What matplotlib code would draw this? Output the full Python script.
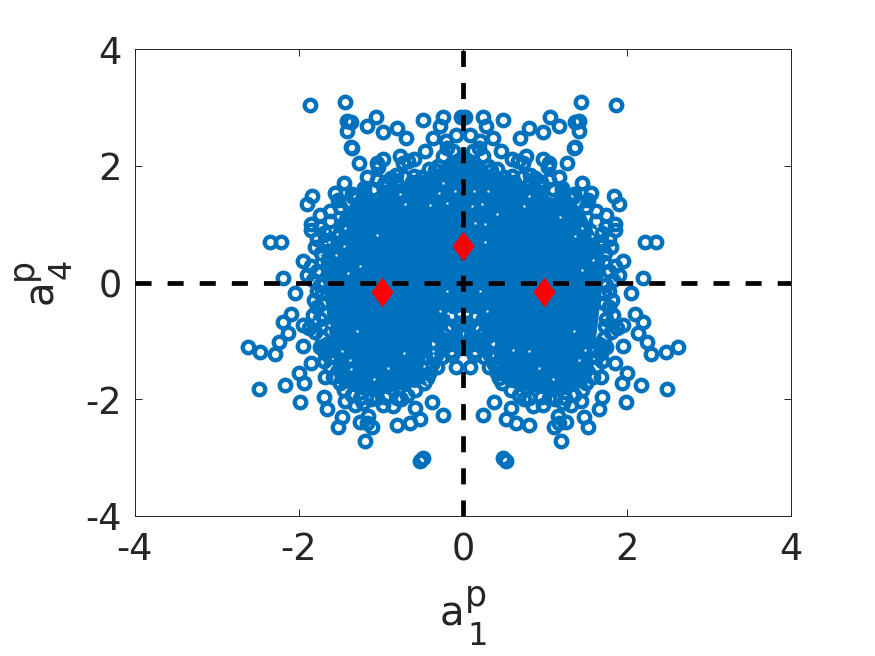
import matplotlib
matplotlib.use('Agg')
from matplotlib import pyplot as plt
from matplotlib.path import Path

# Individual rings that can be told apart (left half)
ring_y = [3.04, 3.09, 2.76, 2.75, 2.60, 2.68, 2.84, 2.58, 2.64, 2.48, 2.78, 2.83, 2.68, 2.48, 2.52, 2.42, 2.30, 2.17, 2.26, 2.30,
          2.32, 2.05, 2.05, 2.11, 1.98, 2.16, 2.05, 2.08, 2.12, 1.92, 1.71, 1.80, 1.62, 1.75, 1.79, 1.49, 1.34, 1.54, 1.42, 1.47,
          1.16, 1.01, 0.69, 0.69, 0.36, 0.07, -0.18, -0.54, -0.67, -0.87, -1.02, -1.11, -1.19, -1.23, -1.09, -1.38, -1.55, -1.72, -1.76, -1.82,
          -2.05, -1.96, -2.16, -1.62, -2.31, -2.47, -2.39, -2.28, -2.40, -2.47, -2.71, -2.44, -2.41, -2.33, -2.15, -2.05, -2.27, -3.00, -3.05,
          -1.44, -2.03, -2.10, -2.06, -2.10, -2.11, -2.00,
          0.95, 0.85, 0.75, 0.72, 0.90, 0.60, 0.50, 0.28, 0.20, 0.12, 0.05, -0.05, -0.18, -0.30, -0.42, -0.55, -0.62, -0.72, -0.78,
          -0.85, -0.95, -1.10, -1.20, -1.35, -1.45, -1.62, -1.72, -1.85, -1.92, -1.98, -2.00, -1.98, -1.97, -1.98, -1.93, -1.85, -1.72, -1.55, -1.40,
          -1.25, -1.15, -1.02, -1.18, -0.98, -0.92, -0.75, -0.72, -0.60,
          1.52, 1.55, 1.60, 1.65, 1.72, 1.80, 1.82, 1.80, 1.95, 2.00, 2.25, 2.10, 1.65, 1.42,
          -1.23, -1.27, -1.25, -1.46, -1.44, -1.63, -1.03, -1.12, -0.89, -0.98, -1.03, -0.92, -0.80, -0.69, -0.69, -0.58,
          1.22, 1.30, 1.38, 1.45, 1.50, 1.55, 1.60, 1.72, 1.85, 1.72, 1.72,
          1.05, 0.62, 0.35, -0.15, -0.35, -0.75, -1.05, -1.28, -1.15, -1.11, -1.08, -1.15, 2.84]
ring_x_left = [-1.87, -1.44, -1.41, -1.36, -1.41, -1.17, -1.06, -0.98, -0.80, -0.70, -0.49, -0.24, -0.28, -0.37, -0.08, -0.21, -0.20, -0.24, -0.46, -1.35,
               -1.37, -1.27, -1.05, -0.98, -1.04, -0.77, -0.73, -0.67, -0.60, -0.34, -1.45, -1.17, -1.21, -1.05, -0.88, -1.84, -1.90, -1.56, -1.52, -1.34,
               -1.74, -1.85, -2.35, -2.22, -1.95, -2.20, -2.05, -2.10, -2.19, -2.14, -2.24, -2.62, -2.47, -2.29, -1.95, -1.85, -2.00, -1.94, -2.17, -2.49,
               -1.99, -1.70, -1.66, -1.68, -1.48, -1.52, -1.26, -1.16, -1.17, -1.11, -1.19, -0.81, -0.65, -0.52, -0.59, -0.38, -0.24, -0.49, -0.53,
               -0.09, -1.44, -1.32, -1.22, -0.98, -0.85, -0.75,
               -1.75, -1.70, -1.78, -1.68, -1.85, -1.80, -1.73, -1.85, -1.78, -1.90, -1.83, -1.75, -1.72, -1.82, -1.78, -1.83, -1.75, -1.95, -1.88,
               -1.80, -1.72, -1.75, -1.68, -1.70, -1.62, -1.58, -1.50, -1.45, -1.35, -1.25, -1.12, -1.05, -0.95, -0.80, -0.68, -0.58, -0.48, -0.42, -0.38,
               -0.33, -0.28, -0.22, -0.15, -0.08, -0.30, -0.15, -0.05, -0.25,
               -1.35, -1.22, -1.10, -0.98, -0.82, -0.72, -0.60, -0.50, -0.42, -0.30, -0.12, -0.05, -0.18, -0.28,
               -0.38, -0.26, -0.14, -0.40, -0.32, -0.44, -0.16, -0.04, -0.01, -0.24, -0.34, -0.10, -0.20, -0.04, -0.28, -0.16,
               -1.62, -1.50, -1.42, -1.30, -1.20, -0.95, -0.85, -0.95, -0.82, -0.62, -0.50,
               -1.62, -1.68, -1.72, -1.78, -1.72, -1.73, -1.66, -1.62, -1.60, -1.72, -1.70, -1.68, -0.02]
ring_x_right = [1.87, 1.44, 1.41, 1.36, 1.41, 1.17, 1.06, 0.98, 0.80, 0.70, 0.49, 0.24, 0.28, 0.37, 0.08, 0.21, 0.20, 0.24, 0.46, 1.35,
                1.37, 1.27, 1.05, 0.98, 1.04, 0.77, 0.73, 0.67, 0.60, 0.34, 1.45, 1.17, 1.21, 1.05, 0.88, 1.84, 1.90, 1.56, 1.52, 1.34,
                1.74, 1.85, 2.35, 2.22, 1.95, 2.20, 2.05, 2.10, 2.19, 2.14, 2.24, 2.62, 2.47, 2.29, 1.95, 1.85, 2.00, 1.94, 2.17, 2.49,
                1.99, 1.70, 1.66, 1.68, 1.48, 1.52, 1.26, 1.16, 1.17, 1.11, 1.19, 0.81, 0.65, 0.52, 0.59, 0.38, 0.24, 0.49, 0.53,
                0.09, 1.44, 1.32, 1.22, 0.98, 0.85, 0.75,
                1.75, 1.70, 1.78, 1.68, 1.85, 1.80, 1.73, 1.85, 1.78, 1.90, 1.83, 1.75, 1.72, 1.82, 1.78, 1.83, 1.75, 1.95, 1.88,
                1.80, 1.72, 1.75, 1.68, 1.70, 1.62, 1.58, 1.50, 1.45, 1.35, 1.25, 1.12, 1.05, 0.95, 0.80, 0.68, 0.58, 0.48, 0.42, 0.38,
                0.33, 0.28, 0.22, 0.15, 0.08, 0.30, 0.15, 0.05, 0.25,
                1.35, 1.22, 1.10, 0.98, 0.82, 0.72, 0.60, 0.50, 0.42, 0.30, 0.12, 0.05, 0.18, 0.28,
                0.38, 0.26, 0.14, 0.40, 0.32, 0.44, 0.16, 0.04, 0.01, 0.24, 0.34, 0.10, 0.20, 0.04, 0.28, 0.16,
                1.62, 1.50, 1.42, 1.30, 1.20, 0.95, 0.85, 0.95, 0.82, 0.62, 0.50,
                1.62, 1.68, 1.72, 1.78, 1.72, 1.73, 1.66, 1.62, 1.60, 1.72, 1.70, 1.68, 0.02]

# The middle is a solid mass where single rings can't be read, so it's an outline
blob_x = [0.00, -0.20, -0.24, -0.40, -0.46, -0.40, -0.56, -0.80, -1.05, -1.22, -1.50, -1.62, -1.54, -1.62, -1.66, -1.71, -1.74, -1.62, -1.54, -1.46,
          -1.29, -1.05, -0.68, -0.40, -0.24, -0.04,
          0.04, 0.24, 0.40, 0.68, 1.05, 1.29, 1.46, 1.54, 1.62, 1.74, 1.71, 1.66, 1.62, 1.54, 1.62, 1.50, 1.22, 1.05, 0.80, 0.56, 0.40, 0.46, 0.40, 0.24, 0.20]
blob_y = [-0.51, -0.55, -0.92, -1.03, -1.32, -1.61, -1.80, -1.86, -1.92, -1.88, -1.78, -1.49, -1.32, -0.98, -0.51, 0.05, 0.39, 0.79, 1.03, 1.25,
          1.39, 1.47, 1.76, 1.82, 2.05, 2.19,
          2.19, 2.05, 1.82, 1.76, 1.47, 1.39, 1.25, 1.03, 0.79, 0.39, 0.05, -0.51, -0.98, -1.32, -1.49, -1.78, -1.88, -1.92, -1.86, -1.80, -1.61, -1.32, -1.03, -0.92, -0.55]

# Small white gaps left in the mass
speck_x = [-0.77, -0.71, -0.24, -0.20, -0.10, -0.29, -0.40, -1.44, -1.54, -1.45, -1.55, -1.05, -1.66, -1.64, -1.75, -1.40, -1.25,
           -1.29, -1.80, -1.64, -1.47, -1.38, -1.36, -0.91, -1.09, -0.72, -0.48, -0.36, -0.28, -0.18, -0.20, -0.44, -0.62,
           1.57, 1.63, 1.67, 1.45, 1.37, 1.83, 1.18, 0.80, 0.74, 0.41, 0.27, 0.27, 0.15, 0.13, 0.31, 0.23, 0.11, 1.59, 1.45,
           1.35, 1.10, 1.49, 1.41, 0.93, 0.80, 0.61, 0.37, 0.21, 0.15, 0.29]
speck_y = [1.51, 1.34, 1.70, 1.36, 1.56, 1.54, 1.32, 0.93, 0.83, 0.62, 0.47, 0.81, 0.88, 0.70, 0.45, 0.17, 0.28,
           -0.83, -0.66, -0.72, -1.17, -1.32, -1.49, -1.46, -1.66, -1.20, -1.43, -1.17, -0.49, -0.52, -0.15, -1.72, -1.80,
           0.79, 0.97, 0.85, 0.93, 0.79, 0.44, 1.12, 1.48, 1.31, 1.17, 1.00, 0.69, 1.02, 1.56, 1.56, 1.34, 1.31, 0.39, 0.22,
           -0.83, -1.66, -1.16, -1.32, -1.46, -1.18, -1.15, -1.06, -0.15, -0.55, -0.49]

# Red diamonds
diamond_x = [-0.99, 0.0, 0.99]
diamond_y = [-0.16, 0.62, -0.16]

ticks = [-4, -2, 0, 2, 4]
tick_labels = ['-4', '-2', '0', '2', '4']

blue = '#0072BD'
dark = '#262626'
W, H = 875.0, 656.0

fig = plt.figure(figsize=(8.75, 6.56), dpi=100)
ax = fig.add_axes([135/W, 1-516/H, 656/W, 467/H])

ax.fill(blob_x, blob_y, color=blue, lw=0, zorder=2)
ax.plot(ring_x_left, ring_y, 'o', ms=8.3, mew=3.1, mec=blue, mfc='none', zorder=3)
ax.plot(ring_x_right, ring_y, 'o', ms=8.3, mew=3.1, mec=blue, mfc='none', zorder=3)
ax.plot(speck_x, speck_y, 's', ms=1.6, mfc='white', mec='none', zorder=3.5)

# dashes start from the low end of each line
ax.plot([-4, 4], [0, 0], color='k', lw=3.4, ls=(0, (3.4, 3.4)), dash_capstyle='butt', zorder=4)
ax.plot([0, 0], [-4, 4], color='k', lw=3.4, ls=(0, (3.4, 3.4)), dash_capstyle='butt', zorder=4)

thin_diamond = Path([(0, 1), (0.74, 0), (0, -1), (-0.74, 0), (0, 1)], closed=True)
ax.plot(diamond_x, diamond_y, ls='none', marker=thin_diamond, ms=21.5, mfc='red', mec='none', zorder=5)

ax.set_xlim(-4, 4)
ax.set_ylim(-4, 4)
ax.set_xticks(ticks)
ax.set_yticks(ticks)
ax.set_xticklabels(tick_labels)
ax.set_yticklabels(tick_labels)
ax.tick_params(direction='in', length=4.7, width=0.7, color=dark, labelcolor=dark, labelsize=26.5, top=True, right=True)
ax.tick_params(axis='x', pad=11)
ax.tick_params(axis='y', pad=9.5)
for s in ax.spines.values():
    s.set_linewidth(0.7)
    s.set_color(dark)

# axis labels are pieced together, their sub and superscripts are big
def label(px, py, txt, size, rot=0, ha='left'):
    fig.text(px/W, 1-py/H, txt, fontsize=size, color=dark, rotation=rot, ha=ha, va='baseline', rotation_mode='anchor')

label(440, 626, 'a', 29)
label(465, 606, 'p', 25)
label(467, 645, '1', 23)
label(52, 304, 'a', 29, rot=90)
label(32, 280, 'p', 25, rot=90)
label(70.5, 279, '4', 23, rot=90)

fig.savefig('out.png', dpi=100)
